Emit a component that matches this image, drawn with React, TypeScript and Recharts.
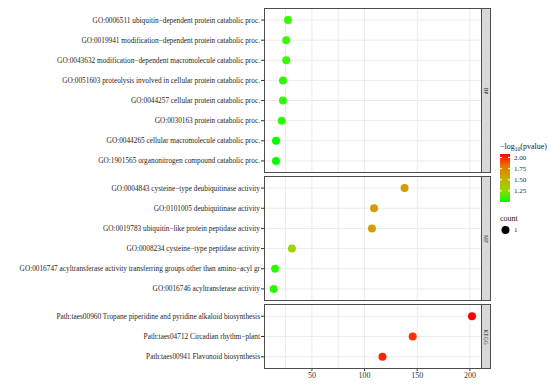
import { ScatterChart, Scatter, XAxis, YAxis, ZAxis, CartesianGrid } from "recharts";

// --- data ---
const BP_TERMS = [
  "GO:0006511 ubiquitin\u2212dependent protein catabolic proc.",
  "GO:0019941 modification\u2212dependent protein catabolic proc.",
  "GO:0043632 modification\u2212dependent macromolecule catabolic proc.",
  "GO:0051603 proteolysis involved in cellular protein catabolic proc.",
  "GO:0044257 cellular protein catabolic proc.",
  "GO:0030163 protein catabolic proc.",
  "GO:0044265 cellular macromolecule catabolic proc.",
  "GO:1901565 organonitrogen compound catabolic proc.",
];
const BP_X = [27.3, 25.6, 25.6, 22.5, 22.5, 21.3, 15.9, 15.9];
const BP_LOGP = [1.03, 1.03, 1.03, 1.02, 1.02, 1.02, 1.0, 1.0];

const MF_TERMS = [
  "GO:0004843 cysteine\u2212type deubiquitinase activity",
  "GO:0101005 deubiquitinase activity",
  "GO:0019783 ubiquitin\u2212like protein peptidase activity",
  "GO:0008234 cysteine\u2212type peptidase activity",
  "GO:0016747 acyltransferase activity transferring groups other than amino\u2212acyl gr",
  "GO:0016746 acyltransferase activity",
];
const MF_X = [138, 109, 107, 31, 15, 13.7];
const MF_LOGP = [1.62, 1.6, 1.6, 1.28, 1.02, 1.02];

const KEGG_TERMS = [
  "Path:taes00960 Tropane piperidine and pyridine alkaloid biosynthesis",
  "Path:taes04712 Circadian rhythm\u2212plant",
  "Path:taes00941 Flavonoid biosynthesis",
];
const KEGG_X = [202, 145.7, 117];
const KEGG_LOGP = [2.08, 2.03, 2.05];

const X_TICKS = [50, 100, 150, 200];
const X_GRID = [25, 50, 75, 100, 125, 150, 175, 200];
const LEGEND_TICKS = [2.0, 1.75, 1.5, 1.25];
const P_MIN = 1.0;
const P_MAX = 2.08;

// --- green -> red gradient in Lab space, like ggplot ---
function toLin(c: number) {
  c /= 255;
  return c <= 0.04045 ? c / 12.92 : Math.pow((c + 0.055) / 1.055, 2.4);
}
function fromLin(c: number) {
  const v = c <= 0.0031308 ? 12.92 * c : 1.055 * Math.pow(c, 1 / 2.4) - 0.055;
  return Math.max(0, Math.min(255, Math.round(v * 255)));
}
function rgbToLab([r, g, b]: number[]) {
  const R = toLin(r), G = toLin(g), B = toLin(b);
  const x = (R * 0.4124 + G * 0.3576 + B * 0.1805) / 0.95047;
  const y = R * 0.2126 + G * 0.7152 + B * 0.0722;
  const z = (R * 0.0193 + G * 0.1192 + B * 0.9505) / 1.08883;
  const f = (t: number) => (t > 0.008856 ? Math.cbrt(t) : 7.787 * t + 16 / 116);
  return [116 * f(y) - 16, 500 * (f(x) - f(y)), 200 * (f(y) - f(z))];
}
function labToHex([L, a, bb]: number[]) {
  const fy = (L + 16) / 116, fx = fy + a / 500, fz = fy - bb / 200;
  const g = (t: number) => (t ** 3 > 0.008856 ? t ** 3 : (t - 16 / 116) / 7.787);
  const x = g(fx) * 0.95047, y = g(fy), z = g(fz) * 1.08883;
  const r = fromLin(x * 3.2406 + y * -1.5372 + z * -0.4986);
  const gg = fromLin(x * -0.9689 + y * 1.8758 + z * 0.0415);
  const b = fromLin(x * 0.0557 + y * -0.204 + z * 1.057);
  return "#" + [r, gg, b].map((v) => v.toString(16).padStart(2, "0")).join("");
}
const LOW = rgbToLab([0, 255, 0]);
const HIGH = rgbToLab([255, 0, 0]);
function pColor(v: number) {
  const t = Math.max(0, Math.min(1, (v - P_MIN) / (P_MAX - P_MIN)));
  return labToHex(LOW.map((l, i) => l + (HIGH[i] - l) * t));
}

const FONT = "'Liberation Serif', 'DejaVu Serif', serif";
const PLOT_L = 264;
const PLOT_R = 482;

const Dot = (p: any) => <circle cx={p.cx} cy={p.cy} r={4} fill={pColor(p.payload.logp)} />;

const YTick = ({ x, y, payload, terms }: any) => (
  <text x={x} y={y} dy="0.35em" textAnchor="end" fontSize={7.3} fill="#262626" fontFamily={FONT}>
    {terms[payload.value] ?? ""}
  </text>
);

const XTick = ({ x, y, payload }: any) => (
  <text x={x} y={y} dy="0.75em" textAnchor="middle" fontSize={8} fill="#333" fontFamily={FONT}>
    {payload.value}
  </text>
);

interface PanelProps {
  terms: string[];
  xs: number[];
  logp: number[];
  top: number;
  height: number;
  strip: string;
  showX?: boolean;
}

function Panel({ terms, xs, logp, top, height, strip, showX = false }: PanelProps) {
  const data = terms.map((t, i) => ({ x: xs[i], y: i, logp: logp[i] }));
  const rows = terms.map((_, i) => i);
  const axisH = 16;
  return (
    <>
      <div style={{ position: "absolute", left: 0, top }}>
        <ScatterChart width={PLOT_R} height={height + (showX ? axisH : 0)} margin={{ top: 0, right: 0, bottom: 0, left: 0 }}>
          <CartesianGrid stroke="#ebebeb" verticalValues={X_GRID} horizontalValues={rows} />
          <XAxis
            type="number" dataKey="x" domain={[4.5, 211.5]} ticks={X_TICKS} hide={!showX} height={axisH}
            axisLine={false} tickSize={2} tickMargin={1}
            tickLine={{ stroke: "#333" }} tick={<XTick />}
          />
          <YAxis
            type="number" dataKey="y" domain={[-0.6, terms.length - 0.4]} ticks={rows} reversed
            width={PLOT_L} axisLine={false} tickSize={3} tickMargin={1} interval={0}
            tickLine={{ stroke: "#333" }} tick={<YTick terms={terms} />}
          />
          <ZAxis range={[50, 50]} />
          <Scatter data={data} shape={Dot} isAnimationActive={false} />
        </ScatterChart>
      </div>
      <div style={{ position: "absolute", left: PLOT_L, top, width: PLOT_R - PLOT_L, height, border: "1px solid #4d4d4d", boxSizing: "border-box", pointerEvents: "none" }} />
      <div style={{ position: "absolute", left: PLOT_R, top, width: 9, height, background: "#d9d9d9", border: "1px solid #4d4d4d", borderLeft: "none", boxSizing: "border-box", display: "flex", alignItems: "center", justifyContent: "center" }}>
        <span style={{ transform: "rotate(90deg)", fontSize: 5.5, color: "#1a1a1a", fontFamily: FONT, whiteSpace: "nowrap" }}>{strip}</span>
      </div>
    </>
  );
}

function Legend() {
  const barTop = 154, barH = 48;
  const yOf = (v: number) => barTop + ((P_MAX - v) / (P_MAX - P_MIN)) * barH;
  const stops = [0, 0.25, 0.5, 0.75, 1];
  return (
    <div style={{ position: "absolute", left: 0, top: 0, fontFamily: FONT, color: "#1a1a1a" }}>
      <svg style={{ position: "absolute", left: 0, top: 0 }} width={550} height={386}>
        <defs>
          <linearGradient id="pgrad" x1="0" y1="1" x2="0" y2="0">
            {stops.map((s) => (
              <stop key={s} offset={s} stopColor={pColor(P_MIN + s * (P_MAX - P_MIN))} />
            ))}
          </linearGradient>
        </defs>
        <text x={500} y={146} dy="0.35em" fontSize={8} fill="#1a1a1a" fontFamily={FONT}>
          {"\u2212log"}
          <tspan fontSize={5.5} dy={2}>10</tspan>
          <tspan dy={-2}>(pvalue)</tspan>
        </text>
        <rect x={500} y={barTop} width={10} height={barH} fill="url(#pgrad)" />
        {LEGEND_TICKS.map((v) => (
          <g key={v}>
            <line x1={500} x2={502} y1={yOf(v)} y2={yOf(v)} stroke="#fff" />
            <line x1={508} x2={510} y1={yOf(v)} y2={yOf(v)} stroke="#fff" />
            <text x={514} y={yOf(v)} dy="0.35em" fontSize={7} fill="#262626" fontFamily={FONT}>{v.toFixed(2)}</text>
          </g>
        ))}
        <text x={500} y={218} dy="0.35em" fontSize={8} fill="#1a1a1a" fontFamily={FONT}>count</text>
        <circle cx={505.5} cy={230} r={4} fill="#000" />
        <text x={514} y={230} dy="0.35em" fontSize={7} fill="#262626" fontFamily={FONT}>1</text>
      </svg>
    </div>
  );
}

export default function App() {
  return (
    <div style={{ position: "absolute", left: 0, top: 0, width: 550, height: 386, background: "#fff", overflow: "hidden" }}>
      <Panel terms={BP_TERMS} xs={BP_X} logp={BP_LOGP} top={8} height={165} strip="BP" />
      <Panel terms={MF_TERMS} xs={MF_X} logp={MF_LOGP} top={176} height={125} strip="MF" />
      <Panel terms={KEGG_TERMS} xs={KEGG_X} logp={KEGG_LOGP} top={304} height={65} strip="KEGG" showX />
      <Legend />
    </div>
  );
}
